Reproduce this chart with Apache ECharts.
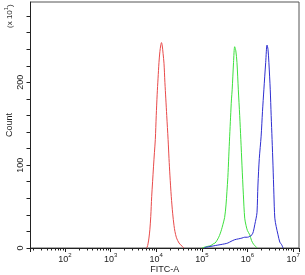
<!DOCTYPE html>
<html>
<head>
<meta charset="utf-8">
<script src="https://cdn.jsdelivr.net/npm/echarts@6/dist/echarts.min.js"></script>
<style>
  html, body { margin: 0; padding: 0; background: #fff; }
  #chart { width: 305px; height: 275px; }
</style>
</head>
<body>
<div id="chart"></div>
<script>
// histograms, x = log10(FITC-A), y = count (x10)
var redLog = [3.78, 3.80, 3.82, 3.84, 3.86, 3.88, 3.90, 3.92, 3.94, 3.96, 3.98, 4.00, 4.02, 4.04, 4.06, 4.08, 4.10, 4.115, 4.13, 4.15, 4.17, 4.19, 4.21, 4.23, 4.26, 4.28, 4.30, 4.33, 4.36, 4.39, 4.41, 4.44, 4.47, 4.50, 4.53, 4.57, 4.61]
var redCount = [0, 1, 5, 12, 22, 38, 62, 80, 98, 115, 131, 160, 185, 205, 224, 237, 245, 248, 245, 235, 223, 200, 180, 160, 131, 108, 88, 62, 42, 27, 20, 13, 9, 6, 4, 2, 0]

var greenLog = [5.00, 5.06, 5.13, 5.20, 5.25, 5.29, 5.33, 5.37, 5.40, 5.43, 5.46, 5.50, 5.53, 5.55, 5.57, 5.59, 5.61, 5.63, 5.65, 5.665, 5.695, 5.72, 5.745, 5.77, 5.80, 5.83, 5.855, 5.88, 5.91, 5.94, 5.97, 6.00, 6.05, 6.09, 6.14, 6.18, 6.21]
var greenCount = [0, 1, 2, 3, 5, 6, 9, 13, 17, 22, 28, 37, 52, 68, 85, 110, 135, 158, 180, 191, 224, 243, 238, 224, 191, 160, 131, 100, 65, 36, 27, 21, 16, 9, 4, 2, 0]

var blueLog = [5.05, 5.10, 5.20, 5.30, 5.40, 5.50, 5.57, 5.64, 5.72, 5.80, 5.88, 5.94, 6.00, 6.05, 6.10, 6.13, 6.16, 6.19, 6.21, 6.23, 6.26, 6.30, 6.33, 6.36, 6.40, 6.43, 6.45, 6.47, 6.50, 6.52, 6.54, 6.56, 6.58, 6.60, 6.63, 6.67, 6.71, 6.75, 6.78]
var blueCount = [0, 1, 2, 3, 4, 5, 6, 8, 10, 11, 12, 13, 13, 14, 16, 20, 28, 36, 43, 76, 108, 135, 165, 191, 224, 245, 240, 224, 191, 160, 131, 100, 65, 36, 26, 16, 7, 4, 0]

var xMin = 17.5
var xMax = 1.35e7
var yMax = 297

function pairs(logs, counts) {
  return logs.map(function (l, i) { return [Math.pow(10, l), counts[i]] })
}

var chart = echarts.init(document.getElementById('chart'))
var font = 'Liberation Sans, Arial, sans-serif'

var option = {
  animation: false,
  backgroundColor: '#fff',
  grid: {
    left: 30.5, right: 6, top: 2, bottom: 27,
    containLabel: false,
    outerBoundsMode: 'none',
    show: true, borderColor: '#555', borderWidth: 1
  },
  xAxis: {
    type: 'log',
    logBase: 10,
    min: xMin,
    max: xMax,
    name: 'FITC-A',
    nameLocation: 'middle',
    nameGap: 17,
    nameMoveOverlap: false,
    nameTextStyle: { fontFamily: font, fontSize: 9, color: '#222' },
    axisLine: { lineStyle: { color: '#222', width: 1 } },
    axisTick: { show: true, length: 4, lineStyle: { color: '#222' } },
    minorTick: { show: true, splitNumber: 9, length: 2.5, lineStyle: { color: '#222' } },
    splitLine: { show: false },
    axisLabel: {
      margin: 4,
      fontFamily: font,
      color: '#222',
      showMinLabel: false,
      showMaxLabel: false,
      formatter: function (v) {
        var e = Math.log10(v)
        if (Math.abs(e - Math.round(e)) > 1e-6) return ''
        return '{b|10}{s|' + Math.round(e) + '}'
      },
      rich: {
        b: { fontSize: 9, fontFamily: font, color: '#222', lineHeight: 12, verticalAlign: 'bottom' },
        s: { fontSize: 6, fontFamily: font, color: '#222', lineHeight: 12, verticalAlign: 'top', padding: [0, 0, 4, 0] }
      }
    }
  },
  yAxis: {
    type: 'value',
    min: 0,
    max: yMax,
    interval: 20,
    name: 'Count',
    nameLocation: 'middle',
    nameRotate: 90,
    nameGap: 16,
    nameMoveOverlap: false,
    nameTextStyle: { fontFamily: font, fontSize: 9, color: '#222' },
    axisLine: { show: true, lineStyle: { color: '#222', width: 1 } },
    axisTick: { show: true, length: 4, lineStyle: { color: '#222' } },
    splitLine: { show: false },
    axisLabel: {
      rotate: 90,
      margin: 5,
      fontFamily: font,
      fontSize: 9,
      color: '#222',
      showMaxLabel: false,
      formatter: function (v) { return v % 100 === 0 ? String(v) : '' }
    }
  },
  graphic: [{
    type: 'text',
    x: 3,
    y: 28,
    rotation: Math.PI / 2,
    style: {
      text: '{a|(x 10}{s|1}{a|)}',
      fontFamily: font,
      rich: {
        a: { fontSize: 8, fontFamily: font, fill: '#333', lineHeight: 11, verticalAlign: 'bottom' },
        s: { fontSize: 6, fontFamily: font, fill: '#333', lineHeight: 11, verticalAlign: 'top' }
      }
    }
  }],
  series: [
    { type: 'line', data: pairs(redLog, redCount), showSymbol: false, smooth: 0.3, lineStyle: { color: '#e84a4a', width: 1 } },
    { type: 'line', data: pairs(greenLog, greenCount), showSymbol: false, smooth: 0.3, lineStyle: { color: '#3ee03e', width: 1 } },
    { type: 'line', data: pairs(blueLog, blueCount), showSymbol: false, smooth: 0.3, lineStyle: { color: '#2e2ed0', width: 1 } }
  ]
}
chart.setOption(option)
</script>
</body>
</html>
